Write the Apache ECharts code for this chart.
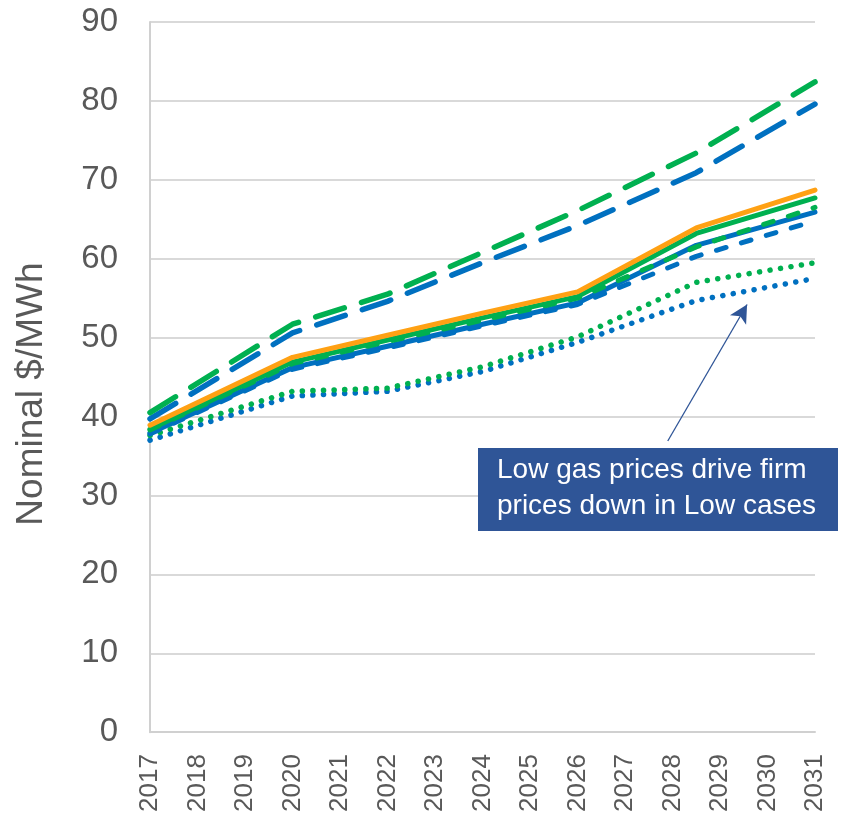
<!DOCTYPE html>
<html>
<head>
<meta charset="utf-8">
<script src="https://cdn.jsdelivr.net/npm/echarts@6/dist/echarts.min.js"></script>
<style>
  html, body { margin: 0; padding: 0; background: #ffffff; }
  #chart { width: 841px; height: 815px; }
</style>
</head>
<body>
<div id="chart"></div>
<script>
// Forecast years at which each price path changes slope
const knots = [2017, 2020, 2022, 2024, 2026, 2028.5, 2031];

// Nominal firm power prices, $/MWh
const reference  = [38.9, 47.5, 50.3, 53.1, 55.8, 63.9, 68.7];
const greenBase  = [38.4, 46.9, 49.7, 52.5, 55.2, 63.2, 67.7];
const blueBase   = [37.9, 46.2, 48.9, 51.7, 54.4, 61.7, 65.9];
const greenHigh  = [40.5, 51.7, 55.5, 60.8, 66.1, 73.4, 82.4];
const blueHigh   = [39.7, 50.6, 54.6, 59.5, 64.2, 70.9, 79.6];
const greenMid   = [38.3, 46.7, 49.5, 52.2, 55.0, 61.5, 66.5];
const blueMid    = [37.8, 46.0, 48.7, 51.5, 54.2, 60.3, 64.8];
const greenLow   = [37.6, 43.2, 43.6, 46.3, 50.1, 57.0, 59.5];
const blueLow    = [37.0, 42.6, 43.2, 45.7, 49.4, 54.7, 57.5];

// Axis ranges and ticks
const yTicks = [0, 10, 20, 30, 40, 50, 60, 70, 80, 90];
const firstYear = 2017;
const lastYear = 2031;

// Callout arrow: tail at the note, head near the Low-case curves
const arrowFrom = [2027.9, 36.9];
const arrowTo   = [2029.57, 54.2];
const noteLines = ['Low gas prices drive firm', 'prices down in Low cases'];

const GREEN = '#00B050';
const BLUE = '#0070C0';
const ORANGE = '#FFA114';
const NOTE = '#2F5597';
const FONT = '"Liberation Sans", Arial, sans-serif';

const pairs = vals => knots.map((x, i) => [x, vals[i]]);

function line(name, vals, color, dash, width) {
  return {
    name: name,
    type: 'line',
    data: pairs(vals),
    symbol: 'none',
    smooth: false,
    silent: true,
    lineStyle: { color: color, width: width || 5, type: dash || 'solid', cap: 'round', join: 'round' },
    z: 2
  };
}

const longDash = [30, 18];
const shortDash = [10, 16];
const dots = [0.1, 10.5];

const series = [
  line('Hub B Low', blueLow, BLUE, dots, 5.5),
  line('Hub A Low', greenLow, GREEN, dots, 5.5),
  line('Hub B Mid', blueMid, BLUE, shortDash),
  line('Hub B Base', blueBase, BLUE),
  line('Hub A Mid', greenMid, GREEN, shortDash),
  line('Hub A Base', greenBase, GREEN),
  line('Reference', reference, ORANGE),
  line('Hub B High', blueHigh, BLUE, longDash, 5.5),
  line('Hub A High', greenHigh, GREEN, longDash, 5.5)
];

// Arrow from the note box to the Low-case curves
series[0].markLine = {
  silent: true,
  symbol: ['none', 'arrow'],
  symbolSize: [14, 18],
  label: { show: false },
  lineStyle: { color: NOTE, width: 1.3, type: 'solid' },
  data: [[{ coord: arrowFrom }, { coord: arrowTo }]]
};

const chart = echarts.init(document.getElementById('chart'), null, { renderer: 'canvas' });

chart.setOption({
  animation: false,
  backgroundColor: '#ffffff',
  grid: { left: 150, right: 26, top: 22, bottom: 82, containLabel: false },
  xAxis: {
    type: 'value',
    min: firstYear,
    max: lastYear,
    interval: 1,
    axisLine: { show: true, lineStyle: { color: '#D0D0D0', width: 2 } },
    axisTick: { show: false },
    splitLine: { show: false },
    axisLabel: {
      rotate: 90,
      margin: 22,
      fontFamily: FONT,
      fontSize: 26,
      color: '#595959',
      formatter: v => String(Math.round(v))
    }
  },
  yAxis: {
    type: 'value',
    min: yTicks[0],
    max: yTicks[yTicks.length - 1],
    interval: 10,
    name: 'Nominal $/MWh',
    nameLocation: 'middle',
    nameGap: 100,
    nameRotate: 90,
    nameTextStyle: { fontFamily: FONT, fontSize: 37, color: '#595959', padding: [0, 34, 0, 0] },
    axisLine: { show: true, lineStyle: { color: '#D0D0D0', width: 2 } },
    axisTick: { show: false },
    splitLine: { show: true, lineStyle: { color: '#D9D9D9', width: 2 } },
    axisLabel: {
      margin: 32,
      fontFamily: FONT,
      fontSize: 33,
      color: '#595959'
    }
  },
  graphic: [
    {
      type: 'rect',
      left: 478,
      top: 448,
      z: 100,
      shape: { width: 360, height: 83 },
      style: { fill: NOTE }
    },
    {
      type: 'text',
      left: 497,
      top: 452,
      z: 101,
      style: {
        text: noteLines.join('\n'),
        fill: '#ffffff',
        font: '28px ' + FONT,
        lineHeight: 36
      }
    }
  ],
  series: series
});
</script>
</body>
</html>
